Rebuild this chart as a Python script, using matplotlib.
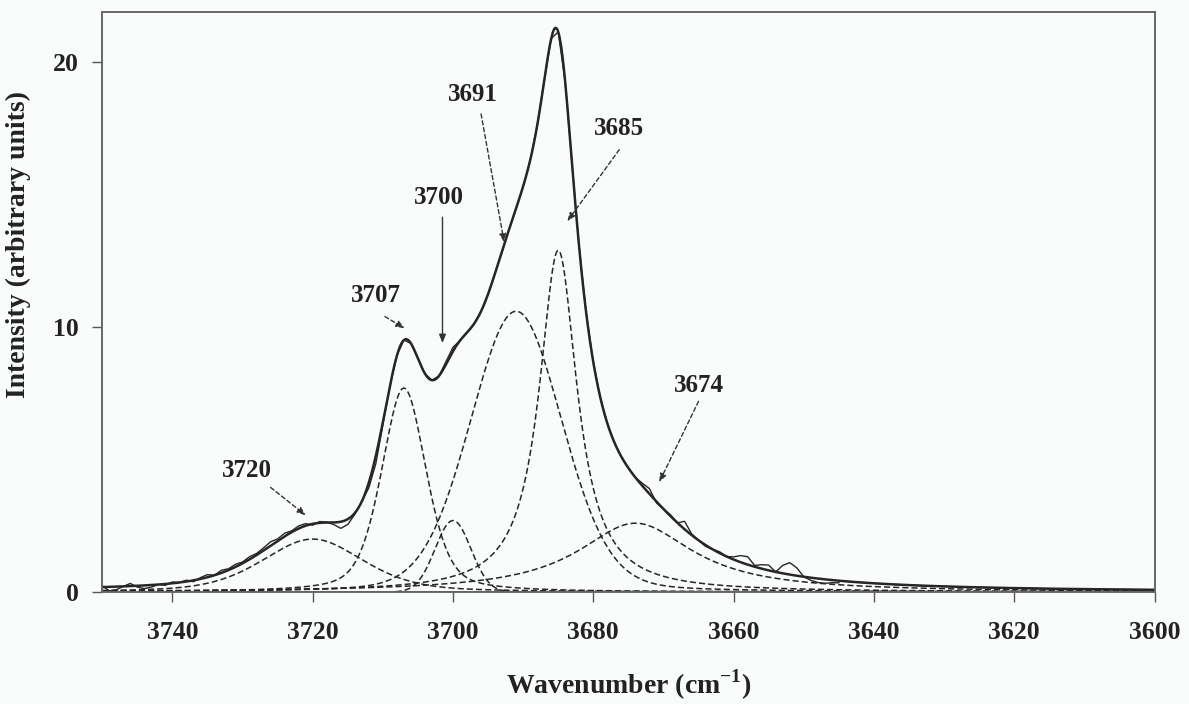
import numpy as np
import matplotlib
matplotlib.use("Agg")
import matplotlib.pyplot as plt

# Band components of the O-H stretching region: centre (cm-1), height, FWHM (cm-1), Lorentz fraction
band_centers = [3720, 3707, 3700, 3691, 3685, 3674]
band_heights = [2.0, 7.7, 2.7, 10.6, 12.9, 2.6]
band_fwhm = [17.0, 7.5, 6.0, 15.5, 6.6, 20.0]
band_lorentz = [0.4, 0.4, 0.0, 0.15, 1.0, 1.0]
band_labels = ["3720", "3707", "3700", "3691", "3685", "3674"]

# Measured spectrum: deviation of the recorded trace from the fitted envelope, 1 cm-1 steps
meas_start, meas_stop = 3750, 3645
meas_resid = [
    0.05, -0.15, -0.12, 0.00, 0.10, -0.05, -0.12, -0.08, 0.00, -0.05,   # 3750-3741
    0.05, 0.00, 0.05, -0.05, 0.05, 0.10, 0.00, 0.10, 0.05, 0.10,        # 3740-3731
    0.05, 0.10, 0.06, 0.10, 0.15, 0.08, 0.12, 0.05, 0.10, 0.08,         # 3730-3721
    -0.05, 0.05, 0.02, -0.08, -0.25, -0.20, -0.05, 0.00, -0.20, -0.30,  # 3720-3711
    -0.10, 0.00, 0.00, 0.00, 0.00, 0.00, 0.00, 0.00, 0.00, 0.10,        # 3710-3701
    0.15, 0.00, 0.00, 0.00, 0.00, 0.00, 0.00, 0.00, 0.00, 0.00,         # 3700-3691
    0.00, 0.00, 0.00, 0.00, 0.00, 0.00, 0.00, 0.00, 0.00, 0.00,         # 3690-3681
    0.00, 0.00, 0.00, 0.00, 0.00, 0.00, 0.00, 0.10, 0.20, -0.05,        # 3680-3671
    0.00, 0.05, 0.00, 0.30, 0.05, 0.00, -0.05, 0.00, 0.05, 0.00,        # 3670-3661
    0.10, 0.25, 0.30, 0.05, 0.15, 0.20, 0.00, 0.30, 0.45, 0.30,         # 3660-3651
    0.00, -0.10, -0.15, -0.15, -0.10, -0.08,                            # 3650-3645
]

# Label text positions and arrow ends in data coordinates
label_xy = [(3729.4, 4.6), (3711.0, 11.2), (3702.0, 14.9), (3697.2, 18.8), (3676.3, 17.5), (3665.0, 7.8)]
arrow_tail = [(3726.0, 3.95), (3709.7, 10.4), (3701.5, 14.15), (3696.0, 18.05), (3676.3, 16.7), (3665.0, 7.2)]
arrow_head = [(3721.0, 2.9), (3706.9, 9.96), (3701.5, 9.4), (3692.7, 13.2), (3683.7, 14.0), (3670.6, 4.15)]

x_ticks = [3740, 3720, 3700, 3680, 3660, 3640, 3620, 3600]
y_ticks = [0, 10, 20]


def band(x, c, h, fwhm, eta):
    hw = fwhm / 2.0
    lor = 1.0 / (1.0 + ((x - c) / hw) ** 2)
    sig = fwhm / (2.0 * np.sqrt(2.0 * np.log(2.0)))
    gau = np.exp(-0.5 * ((x - c) / sig) ** 2)
    return h * (eta * lor + (1.0 - eta) * gau)


def envelope(x):
    return sum(band(x, c, h, w, e) for c, h, w, e in
               zip(band_centers, band_heights, band_fwhm, band_lorentz))


plt.rcParams["font.family"] = ["Liberation Serif", "DejaVu Serif"]
plt.rcParams["font.weight"] = "bold"
plt.rcParams["mathtext.fontset"] = "custom"
plt.rcParams["mathtext.bf"] = "Liberation Serif:bold"
plt.rcParams["mathtext.rm"] = "Liberation Serif:bold"

fig = plt.figure(figsize=(11.89, 7.04), dpi=100, facecolor="#fafcfc")
ax = fig.add_axes([0.086, 0.159, 0.885, 0.824])
ax.set_facecolor("#fafcfc")

ink = "#262626"
x = np.linspace(3750, 3600, 1501)

# individual bands
for c, h, w, e in zip(band_centers, band_heights, band_fwhm, band_lorentz):
    ax.plot(x, band(x, c, h, w, e), color=ink, lw=1.1, ls=(0, (4, 2)))

# measured trace
xm = np.arange(meas_start, meas_stop - 1, -1, dtype=float)
ym = envelope(xm) + np.array(meas_resid)
xm = np.concatenate([xm, x[x < meas_stop]])
ym = np.concatenate([ym, envelope(x[x < meas_stop])])
ax.plot(xm, ym, color=ink, lw=1.0)

# fitted envelope
ax.plot(x, envelope(x), color=ink, lw=1.8)

# baseline
ax.axhline(0, color=ink, lw=2.0)

for lab, (tx, ty), (ax0, ay0), (hx, hy) in zip(band_labels, label_xy, arrow_tail, arrow_head):
    ax.text(tx, ty, lab, fontsize=18, fontweight="bold", ha="center", va="center", color="#222222")
    style = "-" if lab == "3700" else (0, (3, 2))
    ax.annotate("", xy=(hx, hy), xytext=(ax0, ay0),
                arrowprops=dict(arrowstyle="-|>,head_length=0.5,head_width=0.2",
                                color="#333333", lw=1.0, linestyle=style, shrinkA=0, shrinkB=0))

ax.set_xlim(3750, 3600)
ax.set_ylim(0, 21.9)
ax.set_xticks(x_ticks)
ax.set_xticklabels([str(t) for t in x_ticks])
ax.set_yticks(y_ticks)
ax.set_yticklabels([str(t) for t in y_ticks])
ax.tick_params(direction="out", length=7, width=1.0, colors="#555555", labelcolor="#222222",
               labelsize=18.5)
ax.tick_params(axis="x", pad=14)
ax.tick_params(axis="y", pad=10)
for lbl in ax.get_xticklabels() + ax.get_yticklabels():
    lbl.set_fontweight("bold")
for s in ax.spines.values():
    s.set_color("#666666")
    s.set_linewidth(1.4)

ax.set_xlabel("Wavenumber (cm$^{\\mathbf{-1}}$)", fontsize=20, fontweight="bold", color="#222222")
ax.set_ylabel("Intensity (arbitrary units)", fontsize=20, fontweight="bold", color="#222222")
ax.yaxis.set_label_coords(-0.068, 0.6)
ax.xaxis.set_label_coords(0.5, -0.13)

fig.savefig("out.png", dpi=100, facecolor=fig.get_facecolor())
